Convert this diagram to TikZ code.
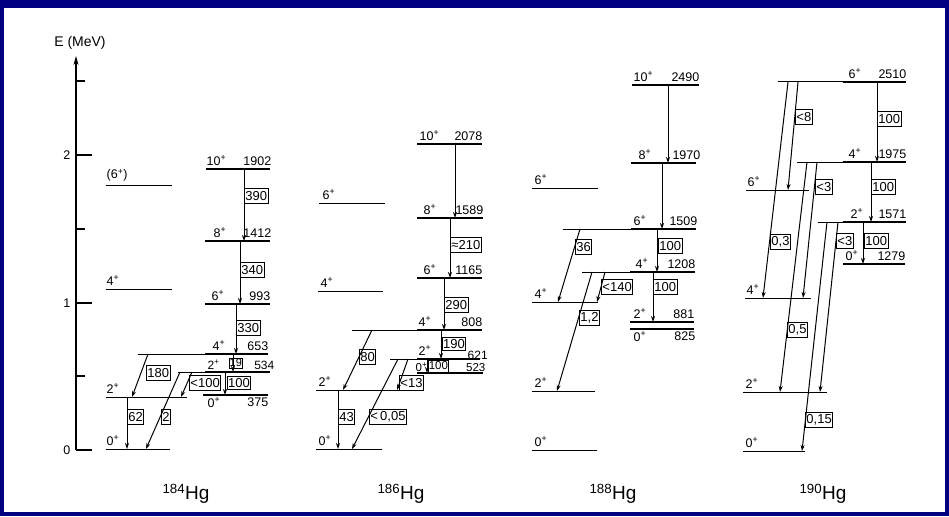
\documentclass[tikz,border=0pt]{standalone}
\usepackage{fontspec}
\setmainfont{Liberation Sans}
\usetikzlibrary{arrows.meta}
\newcommand\gtrans[3]{\coordinate (#1s) at (#2); \coordinate (#1e) at (#3); \draw[tr] (#1s) -- (#1e);}
\newcommand\spn[1]{#1\textsuperscript{+}}
\begin{document}
\begin{tikzpicture}[x=1pt,y=-1pt,
 lv/.style={line width=2pt},
 lt/.style={line width=1pt},
 tr/.style={line width=1pt,-{Stealth[length=6pt,width=4pt]}},
 bx/.style={draw,line width=0.9pt,inner sep=1pt,font=\fontsize{13}{14}\selectfont,anchor=west,minimum height=14.5pt},
 sp/.style={font=\fontsize{12.5}{14}\selectfont,inner sep=0.5pt},
 nuc/.style={font=\fontsize{19}{21}\selectfont,inner sep=0pt},
]
% frame
\fill[fill={rgb,255:red,0;green,0;blue,128}] (0,0) rectangle (949,516);
\fill[white] (4,8) rectangle (945,512);
\useasboundingbox (0,0) rectangle (949,516);

% axis
\coordinate (ax0) at (76,450);
\coordinate (ax1) at (76,56);
\draw[line width=1.1pt,-{Stealth[length=9pt,width=5pt]}] (ax0) -- (ax1);
\foreach \yy/\ll in {450/16,376/9,303/16,229/9,155/16,81/9} {\draw[line width=1.1pt] (76,\yy) -- ++(\ll,0);}
\node[sp,anchor=east] (e0) at (71,450) {0};
\node[sp,anchor=east] (e1) at (71,303) {1};
\node[sp,anchor=east] (e2) at (71,155) {2};
\node[sp,font=\fontsize{14}{15}\selectfont] (elab) at (80,43) {E (MeV)};

% ================= 184Hg =================
\draw[lt] (106,185) -- (172,185);
\draw[lt] (106,289) -- (172,289);
\draw[lt] (106,397) -- (187,397);
\draw[lt] (106,449) -- (170,449);
\node[sp,anchor=south west] (a6g) at (106,182) {(\spn{6})};
\node[sp,anchor=south west] (a4g) at (106,286) {\spn{4}};
\node[sp,anchor=south west] (a2g) at (106,394) {\spn{2}};
\node[sp,anchor=south west] (a0g) at (106,446) {\spn{0}};

\draw[lv] (206,169) -- (270,169);
\draw[lv] (205,241) -- (270,241);
\draw[lv] (205,304) -- (270,304);
\draw[lt] (138,354) -- (205,354); \draw[lv] (205,354) -- (268,354);
\draw[lt] (178,372) -- (205,372); \draw[lv] (205,372) -- (270,372);
\draw[lv] (203,395) -- (268,395);
\node[sp,anchor=south west] (a10) at (206,166) {\spn{10}};
\node[sp,anchor=south east] (a10e) at (272,166) {1902};
\node[sp,anchor=south west] (a8) at (213,238) {\spn{8}};
\node[sp,anchor=south east] (a8e) at (272,238) {1412};
\node[sp,anchor=south west] (a6) at (211,301) {\spn{6}};
\node[sp,anchor=south east] (a6e) at (271,301) {993};
\node[sp,anchor=south west] (a4) at (212,351) {\spn{4}};
\node[sp,anchor=south east] (a4e) at (269,351) {653};
\node[sp,anchor=south west,font=\fontsize{12}{13}\selectfont] (a2) at (207,370) {\spn{2}};
\node[sp,anchor=south east,font=\fontsize{12}{13}\selectfont] (a2e) at (275,370) {534};
\node[sp,anchor=north west] (a0) at (207,397) {\spn{0}};
\node[sp,anchor=north east] (a0e) at (269,397) {375};

\gtrans{ta1}{244,169}{244,241} \node[bx] (ba1) at (244,196) {390};
\gtrans{ta2}{240,241}{240,304} \node[bx] (ba2) at (240,270) {340};
\gtrans{ta3}{236,304}{236,354} \node[bx] (ba3) at (236,328) {330};
\gtrans{ta4}{233,354}{233,372} \node[bx,minimum height=10pt,inner sep=0.2pt,font=\fontsize{11}{12}\selectfont] (ba4) at (229,363) {19};
\gtrans{ta5}{148,354}{132,397} \node[bx] (ba5) at (146,373) {180};
\gtrans{ta6}{127,397}{127,449} \node[bx] (ba6) at (127,417) {62};
\gtrans{ta7}{180,372}{146,449} \node[bx] (ba7) at (161,417) {2};
\gtrans{ta8}{192,372}{181,397} \node[bx] (ba8) at (189,383) {<100};
\gtrans{ta9}{225,372}{225,395} \node[bx,minimum height=13pt,inner sep=0.6pt] (ba9) at (227,383) {100};

% ================= 186Hg =================
\draw[lt] (319,203) -- (385,203);
\draw[lt] (318,291) -- (383,291);
\draw[lt] (316,390) -- (413,390);
\draw[lt] (316,449) -- (382,449);
\node[sp,anchor=south west] (b6g) at (322,200) {\spn{6}};
\node[sp,anchor=south west] (b4g) at (320,288) {\spn{4}};
\node[sp,anchor=south west] (b2g) at (318,387) {\spn{2}};
\node[sp,anchor=south west] (b0g) at (318,446) {\spn{0}};

\draw[lv] (417,144) -- (482,144);
\draw[lv] (417,218) -- (483,218);
\draw[lv] (417,278) -- (482,278);
\draw[lt] (352,330) -- (417,330); \draw[lv] (417,330) -- (482,330);
\draw[lt] (390,359) -- (417,359); \draw[lv] (417,359) -- (480,359);
\draw[lv] (417,373) -- (483,373);
\node[sp,anchor=south west] (b10) at (419,141) {\spn{10}};
\node[sp,anchor=south east] (b10e) at (483,141) {2078};
\node[sp,anchor=south west] (b8) at (423,215) {\spn{8}};
\node[sp,anchor=south east] (b8e) at (484,215) {1589};
\node[sp,anchor=south west] (b6) at (423,275) {\spn{6}};
\node[sp,anchor=south east] (b6e) at (483,275) {1165};
\node[sp,anchor=south west] (b4) at (418,327) {\spn{4}};
\node[sp,anchor=south east] (b4e) at (483,327) {808};
\node[sp,anchor=south west] (b2) at (418,356) {\spn{2}};
\node[sp,anchor=south west,font=\fontsize{12}{13}\selectfont] (b2e) at (467,360) {621};
\node[sp,anchor=south west,font=\fontsize{11.5}{12}\selectfont] (b0) at (415,372.5) {\spn{0}};
\node[sp,anchor=south east,font=\fontsize{11.5}{12}\selectfont] (b0e) at (486,372.5) {523};

\gtrans{tb1}{455,144}{455,218}
\gtrans{tb2}{450,218}{450,278} \node[bx] (bb2) at (450,245) {≈210};
\gtrans{tb3}{444,278}{444,330} \node[bx] (bb3) at (444,305) {290};
\gtrans{tb4}{441,330}{441,359} \node[bx,minimum height=13pt,inner sep=0.6pt] (bb4) at (442,344) {190};
\gtrans{tb5}{427,359}{427,373} \node[bx,minimum height=12pt,inner sep=0.3pt,font=\fontsize{11.5}{12}\selectfont] (bb5) at (428,366) {100};
\gtrans{tb6}{372,330}{343,390} \node[bx] (bb6) at (359,357) {80};
\gtrans{tb7}{408,359}{397,390} \node[bx] (bb7) at (399,383) {<13};
\gtrans{tb8}{398,359}{352,449} \node[bx] (bb8) at (369,417) {<\,0,05};
\gtrans{tb9}{338,390}{338,449} \node[bx] (bb9) at (338,417) {43};

% ================= 188Hg =================
\draw[lt] (532,188) -- (598,188);
\draw[lt] (532,302) -- (598,302);
\draw[lt] (532,391) -- (595,391);
\draw[lt] (532,450) -- (597,450);
\node[sp,anchor=south west] (c6g) at (534,185) {\spn{6}};
\node[sp,anchor=south west] (c4g) at (534,299) {\spn{4}};
\node[sp,anchor=south west] (c2g) at (534,388) {\spn{2}};
\node[sp,anchor=south west] (c0g) at (534,447) {\spn{0}};

\draw[lv] (632,85) -- (699,85);
\draw[lv] (631,163) -- (696,163);
\draw[lt] (563,229) -- (631,229); \draw[lv] (631,229) -- (696,229);
\draw[lt] (582,272) -- (630,272); \draw[lv] (630,272) -- (695,272);
\draw[lv] (630,322) -- (694,322);
\draw[lv] (630,329) -- (694,329);
\node[sp,anchor=south west] (c10) at (633,82) {\spn{10}};
\node[sp,anchor=south east] (c10e) at (700,82) {2490};
\node[sp,anchor=south west] (c8) at (638,160) {\spn{8}};
\node[sp,anchor=south east] (c8e) at (701,160) {1970};
\node[sp,anchor=south west] (c6) at (633,226) {\spn{6}};
\node[sp,anchor=south east] (c6e) at (698,226) {1509};
\node[sp,anchor=south west] (c4) at (635,269) {\spn{4}};
\node[sp,anchor=south east] (c4e) at (696,269) {1208};
\node[sp,anchor=south west] (c2) at (633,319) {\spn{2}};
\node[sp,anchor=south east] (c2e) at (695,319) {881};
\node[sp,anchor=north west] (c0) at (633,331) {\spn{0}};
\node[sp,anchor=north east] (c0e) at (696,331) {825};

\gtrans{tc1}{668,85}{668,163}
\gtrans{tc2}{662,163}{662,229}
\gtrans{tc3}{657,229}{657,272} \node[bx] (bc3) at (658,246) {100};
\gtrans{tc4}{653,272}{653,322} \node[bx] (bc4) at (653,287) {100};
\gtrans{tc5}{580,229}{558,302} \node[bx] (bc5) at (575,247) {36};
\gtrans{tc6}{605,272}{597,302} \node[bx] (bc6) at (601,287) {<140};
\gtrans{tc7}{592,272}{557,391} \node[bx] (bc7) at (579,318) {1,2};

% ================= 190Hg =================
\draw[lt] (746,190) -- (809,190);
\draw[lt] (745,298) -- (811,298);
\draw[lt] (743,392) -- (827,392);
\draw[lt] (743,451) -- (805,451);
\node[sp,anchor=south west] (d6g) at (747,187) {\spn{6}};
\node[sp,anchor=south west] (d4g) at (746,295) {\spn{4}};
\node[sp,anchor=south west] (d2g) at (745,389) {\spn{2}};
\node[sp,anchor=south west] (d0g) at (745,448) {\spn{0}};

\draw[lt] (778,82) -- (843,82); \draw[lv] (843,82) -- (906,82);
\draw[lt] (797,162) -- (843,162); \draw[lv] (843,162) -- (906,162);
\draw[lt] (818,222) -- (843,222); \draw[lv] (843,222) -- (906,222);
\draw[lv] (843,264) -- (905,264);
\node[sp,anchor=south west] (d6) at (848,79) {\spn{6}};
\node[sp,anchor=south east] (d6e) at (907,79) {2510};
\node[sp,anchor=south west] (d4) at (848,159) {\spn{4}};
\node[sp,anchor=south east] (d4e) at (907,159) {1975};
\node[sp,anchor=south west] (d2) at (850,219) {\spn{2}};
\node[sp,anchor=south east] (d2e) at (907,219) {1571};
\node[sp,anchor=south west] (d0) at (845,261) {\spn{0}};
\node[sp,anchor=south east] (d0e) at (906,261) {1279};

\gtrans{td1}{877,82}{877,162} \node[bx] (bd1) at (877,119) {100};
\gtrans{td2}{871,162}{871,222} \node[bx] (bd2) at (871,187) {100};
\gtrans{td3}{863,222}{863,264} \node[bx] (bd3) at (864,241) {100};
\gtrans{td4}{798,82}{788,190} \node[bx] (bd4) at (795,117) {<8};
\gtrans{td5}{788,82}{763,298} \node[bx] (bd5) at (770,242) {0,3};
\gtrans{td6}{817,162}{803,298} \node[bx] (bd6) at (815,187) {<3};
\gtrans{td7}{807,162}{780,392} \node[bx] (bd7) at (787,330) {0,5};
\gtrans{td8}{838,222}{820,392} \node[bx] (bd8) at (836,241) {<3};
\gtrans{td9}{827,222}{802,451} \node[bx] (bd9) at (805,420) {0,15};

% nuclide labels
\node[nuc] (n184) at (186,494) {\textsuperscript{184}Hg};
\node[nuc] (n186) at (401,494) {\textsuperscript{186}Hg};
\node[nuc] (n188) at (613,494) {\textsuperscript{188}Hg};
\node[nuc] (n190) at (823,494) {\textsuperscript{190}Hg};
\end{tikzpicture}
\end{document}
